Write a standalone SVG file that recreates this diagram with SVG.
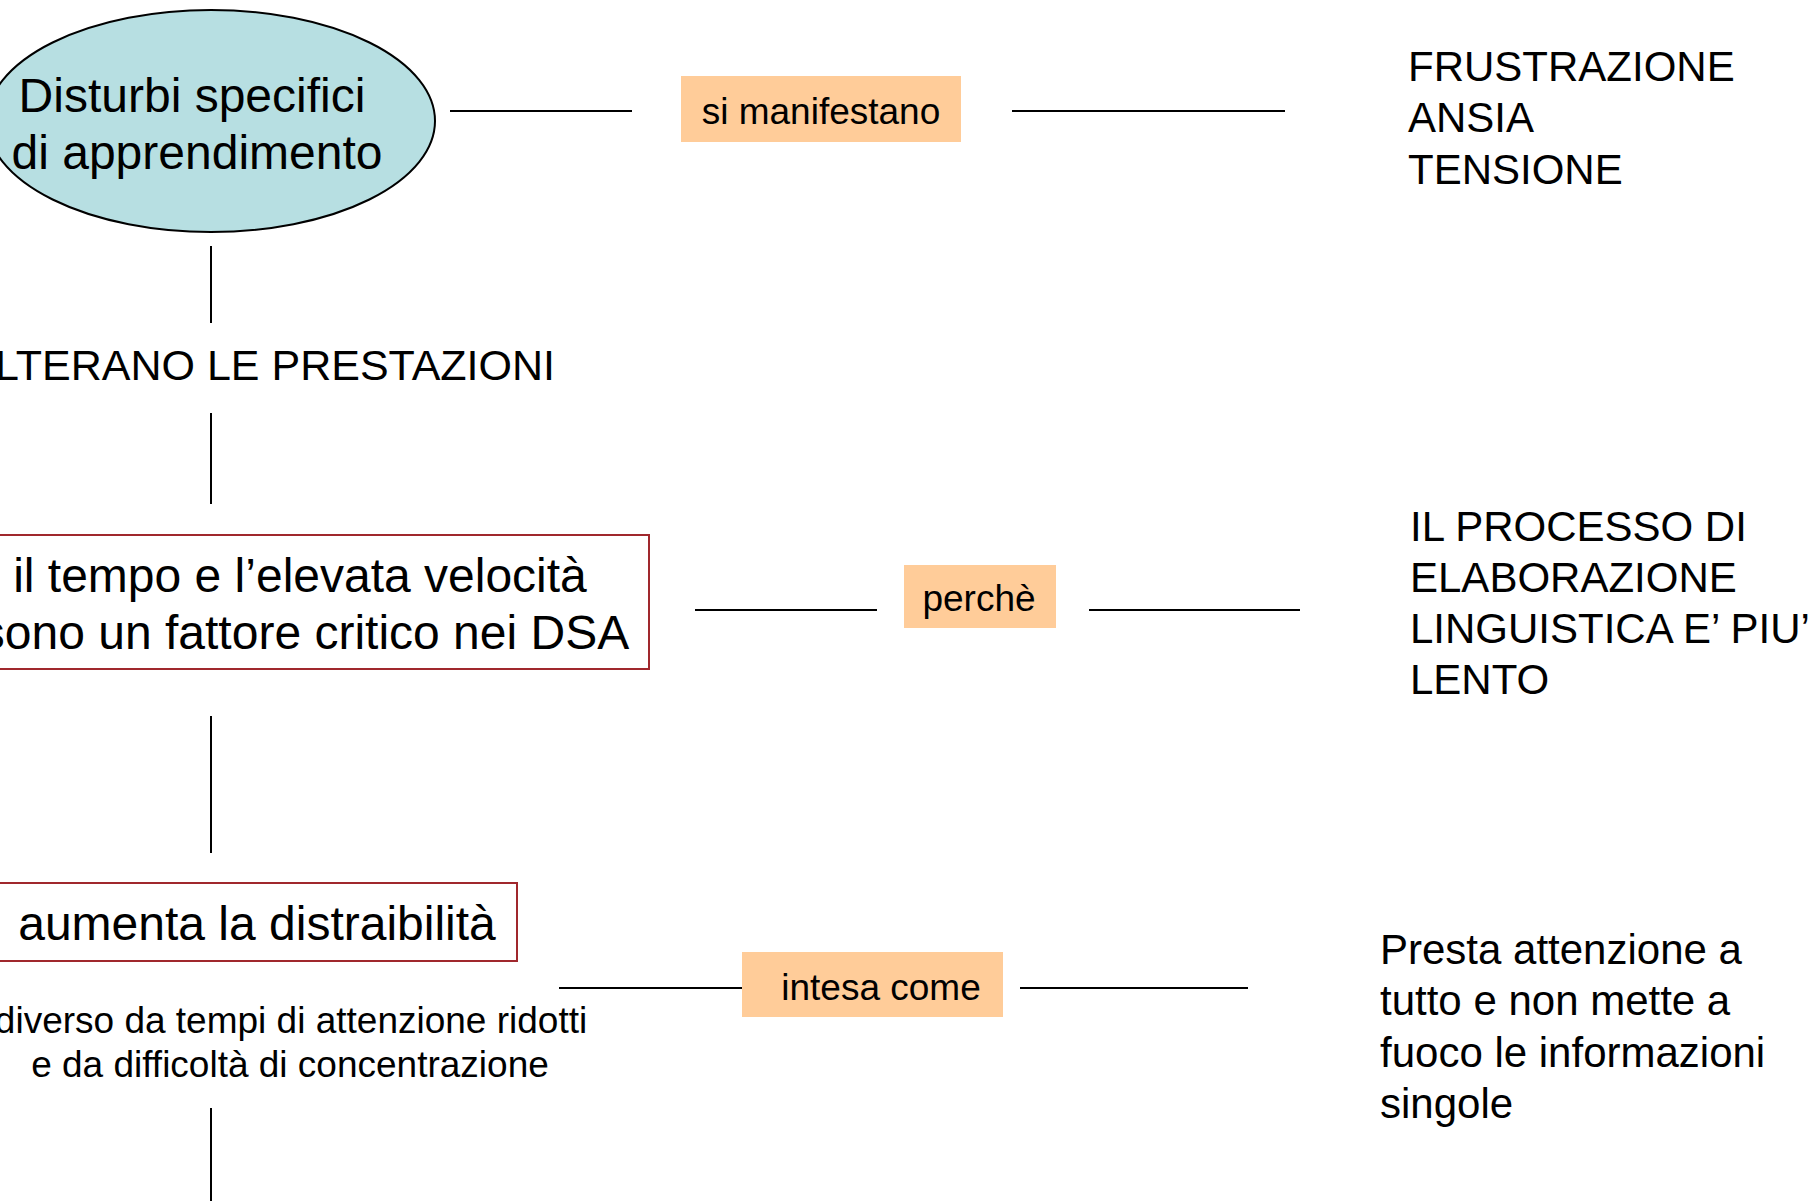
<svg xmlns="http://www.w3.org/2000/svg" width="1814" height="1201" viewBox="0 0 1814 1201">
<style>
text{font-family:"Liberation Sans",Arial,sans-serif;fill:#000}
.big{font-size:48px}
.mid{font-size:42px}
.lab{font-size:37px}
.conn line{stroke:#000;stroke-width:2}
.box{fill:#fff;stroke:#A0282D;stroke-width:2}
.tag{fill:#FFCC99}
</style>
<rect width="1814" height="1201" fill="#fff"/>
<g id="connectors" class="conn">
<line x1="450" y1="111" x2="632" y2="111"/>
<line x1="1012" y1="111" x2="1285" y2="111"/>
<line x1="211" y1="246" x2="211" y2="323"/>
<line x1="211" y1="413" x2="211" y2="504"/>
<line x1="695" y1="610" x2="877" y2="610"/>
<line x1="1089" y1="610" x2="1300" y2="610"/>
<line x1="211" y1="716" x2="211" y2="853"/>
<line x1="559" y1="988" x2="742" y2="988"/>
<line x1="1020" y1="988" x2="1248" y2="988"/>
<line x1="211" y1="1108" x2="211" y2="1201"/>
</g>
<g id="n-dsa">
<ellipse cx="211" cy="121" rx="224" ry="111" fill="#B7DFE2" stroke="#000" stroke-width="2"/>
<text class="big" x="192" y="112" text-anchor="middle">Disturbi specifici</text>
<text class="big" x="197" y="169" text-anchor="middle">di apprendimento</text>
</g>
<g id="n-manifestano">
<rect class="tag" x="681" y="76" width="280" height="66"/>
<text class="lab" x="821" y="124" text-anchor="middle">si manifestano</text>
</g>
<g id="n-frustrazione">
<text class="mid" x="1408" y="81">FRUSTRAZIONE</text>
<text class="mid" x="1408" y="132">ANSIA</text>
<text class="mid" x="1408" y="184">TENSIONE</text>
</g>
<g id="n-alterano">
<text x="555" y="380" text-anchor="end" style="font-size:43px">ALTERANO LE PRESTAZIONI</text>
</g>
<g id="n-tempo">
<rect class="box" x="-6" y="535" width="655" height="134"/>
<text class="big" x="300" y="592" text-anchor="middle">il tempo e l’elevata velocità</text>
<text class="big" x="305" y="649" text-anchor="middle">sono un fattore critico nei DSA</text>
</g>
<g id="n-perche">
<rect class="tag" x="904" y="565" width="152" height="63"/>
<text class="lab" x="979" y="611" text-anchor="middle">perchè</text>
</g>
<g id="n-processo">
<text class="mid" x="1410" y="541">IL PROCESSO DI</text>
<text class="mid" x="1410" y="592">ELABORAZIONE</text>
<text class="mid" x="1410" y="643">LINGUISTICA E’ PIU’</text>
<text class="mid" x="1410" y="694">LENTO</text>
</g>
<g id="n-distraibilita">
<rect class="box" x="-2" y="883" width="519" height="78"/>
<text class="big" x="257" y="940" text-anchor="middle">aumenta la distraibilità</text>
<text class="lab" x="291" y="1033" text-anchor="middle">diverso da tempi di attenzione ridotti</text>
<text class="lab" x="290" y="1077" text-anchor="middle">e da difficoltà di concentrazione</text>
</g>
<g id="n-intesa">
<rect class="tag" x="742" y="952" width="261" height="65"/>
<text class="lab" x="881" y="1000" text-anchor="middle">intesa come</text>
</g>
<g id="n-presta">
<text class="mid" x="1380" y="964">Presta attenzione a</text>
<text class="mid" x="1380" y="1015">tutto e non mette a</text>
<text class="mid" x="1380" y="1067">fuoco le informazioni</text>
<text class="mid" x="1380" y="1118">singole</text>
</g>
</svg>
